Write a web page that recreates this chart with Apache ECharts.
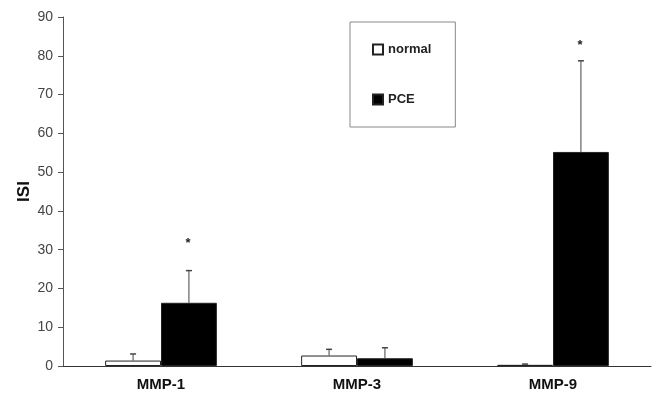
<!DOCTYPE html>
<html><head><meta charset="utf-8">
<script src="https://cdn.jsdelivr.net/npm/echarts@6/dist/echarts.min.js"></script>
<style>html,body{margin:0;padding:0;background:#fff}#c{width:660px;height:406px}</style>
</head><body><div id="c"></div>
<script>
var categories = ['MMP-1', 'MMP-3', 'MMP-9'];
var normalValues = [1.4, 2.7, 0.3];
var normalErrors = [1.7, 1.6, 0.2];
var pceValues = [16.3, 2.0, 55.2];
var pceErrors = [8.3, 2.7, 23.5];
var pceMarks = ['*', '', '*'];
var pceMarkValues = [32.0, 0, 83.2];
var yTicks = {min: 0, max: 90, interval: 10};

var chart = echarts.init(document.getElementById('c'));
var GAP = 0.43;
var FONT = 'Arial, "Liberation Sans", sans-serif';
function errSeries(name, vals, errs, side, marks, markVals) {
  return {
    type: 'custom', name: name + '_err', silent: true, z: 3,
    data: vals.map(function (v, i) { return [i, v, v + errs[i], markVals ? markVals[i] : 0]; }),
    renderItem: function (params, api) {
      var band = api.size([1, 0])[0];
      var bw = band * (1 - GAP) / 2;
      var x = api.coord([api.value(0), 0])[0] + side * bw / 2;
      var y0 = api.coord([0, api.value(1)])[1];
      var y1 = api.coord([0, api.value(2)])[1];
      var st = {stroke: '#444', lineWidth: 1};
      var children = [
        {type: 'line', shape: {x1: x, y1: y0, x2: x, y2: y1}, style: st},
        {type: 'line', shape: {x1: x - 3, y1: y1, x2: x + 3, y2: y1}, style: {stroke: '#444', lineWidth: 1.5}}
      ];
      var m = marks ? marks[params.dataIndex] : '';
      if (m) {
        var ym = api.coord([0, api.value(3)])[1];
        children.push({type: 'text', style: {text: m, x: x - 1, y: ym + 2, align: 'center', verticalAlign: 'middle', fill: '#222', font: 'bold 13px ' + FONT}});
      }
      return {type: 'group', children: children};
    }
  };
}
chart.setOption({
  animation: false,
  grid: {left: 63, right: 9, top: 17, bottom: 40},
  legend: {
    left: 350, top: 22, orient: 'vertical',
    data: ['normal', 'PCE'],
    itemWidth: 10, itemHeight: 10, itemGap: 37,
    padding: [21, 24, 21, 22],
    borderColor: '#888', borderWidth: 1,
    textStyle: {fontWeight: 'bold', fontSize: 13, color: '#222', fontFamily: FONT},
    icon: 'rect'
  },
  xAxis: {
    type: 'category', data: categories,
    axisLine: {lineStyle: {color: '#333', width: 1}},
    axisTick: {show: false},
    axisLabel: {fontWeight: 'bold', fontSize: 15, color: '#111', margin: 11, fontFamily: FONT}
  },
  yAxis: {
    type: 'value', min: yTicks.min, max: yTicks.max, interval: yTicks.interval,
    name: 'ISI', nameLocation: 'middle', nameGap: 30, nameMoveOverlap: false,
    nameTextStyle: {fontWeight: 'bold', fontSize: 17, color: '#111', fontFamily: FONT},
    axisLine: {show: true, lineStyle: {color: '#555', width: 1}},
    axisTick: {show: true, inside: false, length: 5, lineStyle: {color: '#555'}},
    splitLine: {show: false},
    axisLabel: {fontSize: 14, color: '#444', margin: 10, fontFamily: FONT}
  },
  series: [
    {name: 'normal', type: 'bar', data: normalValues, barGap: 0, barCategoryGap: '43%',
     itemStyle: {color: '#fff', borderColor: '#222', borderWidth: 1}},
    {name: 'PCE', type: 'bar', data: pceValues, barGap: 0, barCategoryGap: '43%',
     itemStyle: {color: '#000', borderColor: '#222', borderWidth: 1}},
    errSeries('normal', normalValues, normalErrors, -1, null, null),
    errSeries('PCE', pceValues, pceErrors, 1, pceMarks, pceMarkValues)
  ]
});
</script></body></html>
